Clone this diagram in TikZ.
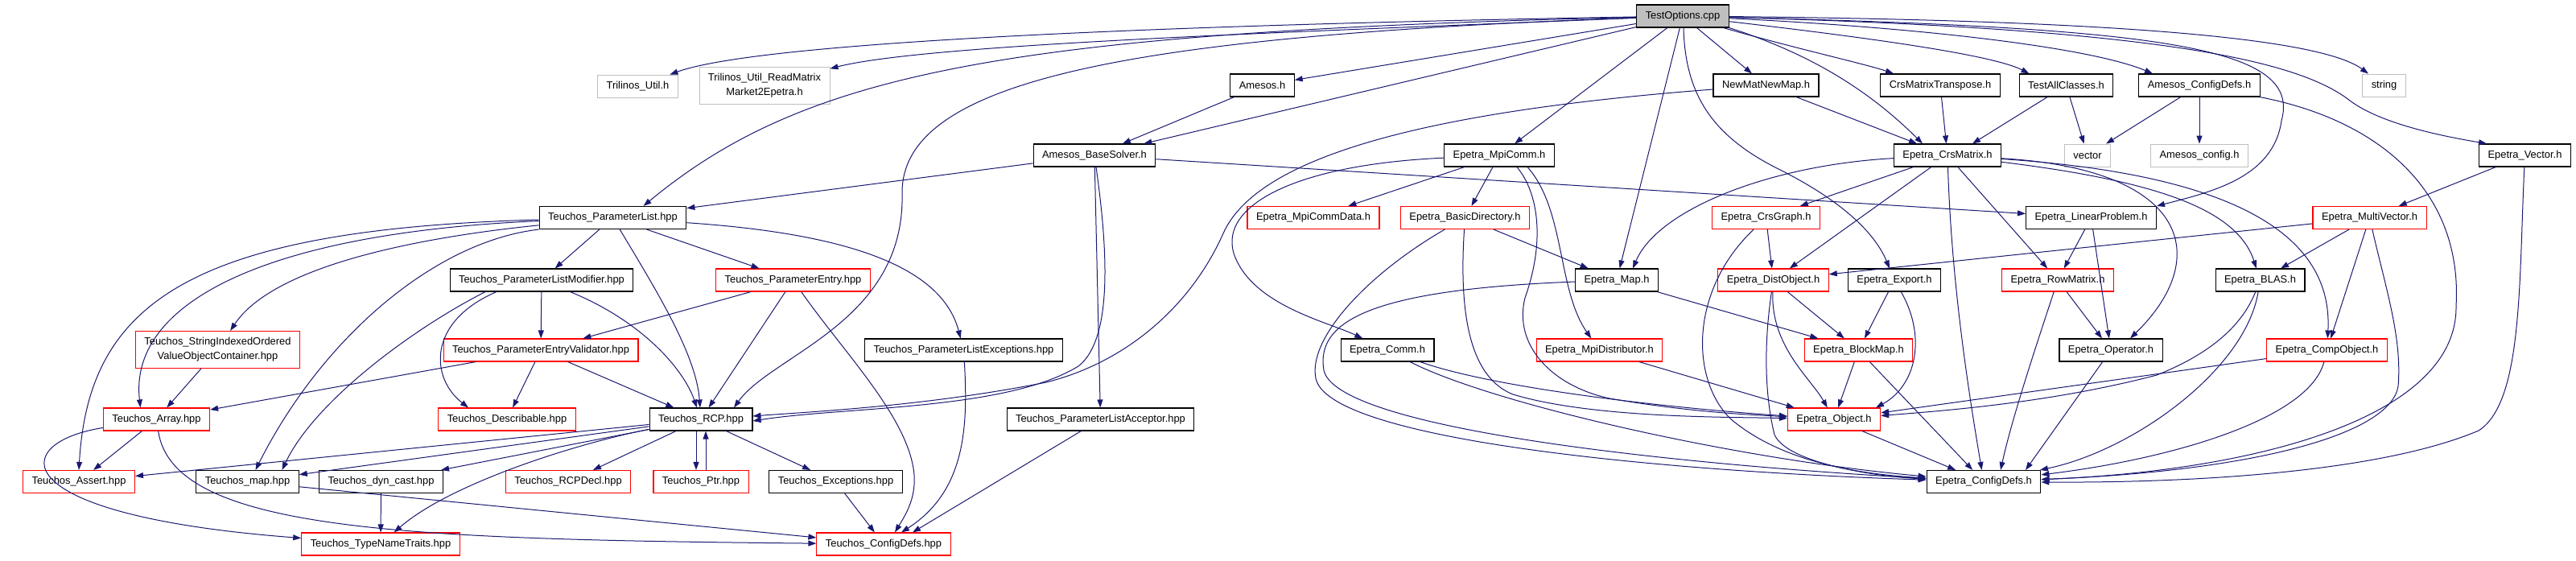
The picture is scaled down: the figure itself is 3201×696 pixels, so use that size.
\documentclass[tikz,border=0pt]{standalone}
\usepackage{fontspec}
\setmainfont{Liberation Sans}
\usetikzlibrary{arrows.meta}
\definecolor{incblue}{HTML}{191970}
\newcommand{\boxfont}{\fontsize{12.9}{18}\selectfont}
\begin{document}
\begin{tikzpicture}[x=1pt,y=-1pt,
  filebox/.style={draw=black,line width=1.1pt,inner xsep=11pt,inner ysep=0pt,minimum height=28pt,font=\boxfont},
  redbox/.style={filebox,draw=red},
  greybox/.style={filebox,draw=black!25,line width=0.9pt},
  rootbox/.style={filebox,fill=black!25},
  twoline/.style={align=center,minimum height=46pt},
  inc/.style={draw=incblue,line width=1pt,-{Triangle[length=10pt,width=7pt]}}]
\useasboundingbox (0,0) rectangle (3201,696);
\node[rootbox] (test) at (2091,20) {TestOptions.cpp};
\node[greybox] (tutil) at (792.5,107) {Trilinos\_Util.h};
\node[greybox,twoline] (treadmm) at (950,106) {Trilinos\_Util\_ReadMatrix\\Market2Epetra.h};
\node[filebox] (amesos) at (1568.5,106) {Amesos.h};
\node[filebox] (newmat) at (2194.5,106) {NewMatNewMap.h};
\node[filebox] (crstrans) at (2411,106) {CrsMatrixTranspose.h};
\node[filebox] (testall) at (2567.5,106) {TestAllClasses.h};
\node[filebox] (amconfdefs) at (2733,106) {Amesos\_ConfigDefs.h};
\node[greybox] (str) at (2962.5,106) {string};
\node[filebox] (basesolver) at (1360,193) {Amesos\_BaseSolver.h};
\node[filebox] (mpicomm) at (1863,193) {Epetra\_MpiComm.h};
\node[filebox] (crsmatrix) at (2420,193) {Epetra\_CrsMatrix.h};
\node[greybox] (vec) at (2594,193) {vector};
\node[greybox] (amconfig) at (2733,193) {Amesos\_config.h};
\node[filebox] (evector) at (3137.5,193) {Epetra\_Vector.h};
\node[filebox] (plist) at (761.5,270.5) {Teuchos\_ParameterList.hpp};
\node[redbox] (mpicommdata) at (1632,270.5) {Epetra\_MpiCommData.h};
\node[redbox] (basicdir) at (1820.5,270.5) {Epetra\_BasicDirectory.h};
\node[redbox] (crsgraph) at (2194.5,270.5) {Epetra\_CrsGraph.h};
\node[filebox] (linprob) at (2598.5,270.5) {Epetra\_LinearProblem.h};
\node[redbox] (multivec) at (2944.5,270.5) {Epetra\_MultiVector.h};
\node[filebox] (plmod) at (673,348) {Teuchos\_ParameterListModifier.hpp};
\node[redbox] (pentry) at (985.5,348) {Teuchos\_ParameterEntry.hpp};
\node[filebox] (emap) at (2009,348) {Epetra\_Map.h};
\node[redbox] (distobj) at (2203.5,348) {Epetra\_DistObject.h};
\node[filebox] (export) at (2354,348) {Epetra\_Export.h};
\node[redbox] (rowmat) at (2557,348) {Epetra\_RowMatrix.h};
\node[filebox] (blas) at (2808.5,348) {Epetra\_BLAS.h};
\node[redbox,twoline] (sioc) at (270.5,434.5) {Teuchos\_StringIndexedOrdered\\ValueObjectContainer.hpp};
\node[redbox] (pevalid) at (672,435) {Teuchos\_ParameterEntryValidator.hpp};
\node[filebox] (plexc) at (1197.5,435) {Teuchos\_ParameterListExceptions.hpp};
\node[filebox] (comm) at (1724,435) {Epetra\_Comm.h};
\node[redbox] (mpidist) at (1987.5,435) {Epetra\_MpiDistributor.h};
\node[redbox] (blockmap) at (2309.5,435) {Epetra\_BlockMap.h};
\node[filebox] (operator) at (2623,435) {Epetra\_Operator.h};
\node[redbox] (compobj) at (2891.5,435) {Epetra\_CompObject.h};
\node[redbox] (tarray) at (194.5,521) {Teuchos\_Array.hpp};
\node[redbox] (descr) at (630,521) {Teuchos\_Describable.hpp};
\node[filebox] (rcp) at (871,521) {Teuchos\_RCP.hpp};
\node[filebox] (placc) at (1367.5,521) {Teuchos\_ParameterListAcceptor.hpp};
\node[redbox] (eobject) at (2279,521) {Epetra\_Object.h};
\node[redbox] (tassert) at (98,598.5) {Teuchos\_Assert.hpp};
\node[filebox] (tmap) at (307.5,598.5) {Teuchos\_map.hpp};
\node[filebox] (dyncast) at (473.5,598.5) {Teuchos\_dyn\_cast.hpp};
\node[redbox] (rcpdecl) at (706,598.5) {Teuchos\_RCPDecl.hpp};
\node[redbox] (tptr) at (871,598.5) {Teuchos\_Ptr.hpp};
\node[filebox] (texc) at (1038.5,598.5) {Teuchos\_Exceptions.hpp};
\node[filebox] (econfdefs) at (2465,598.5) {Epetra\_ConfigDefs.h};
\node[redbox] (tnametraits) at (473,676) {Teuchos\_TypeNameTraits.hpp};
\node[redbox] (tconfdefs) at (1098,676) {Teuchos\_ConfigDefs.hpp};
\foreach \a/\b in {test/amesos,test/basesolver,test/mpicomm,test/newmat,test/emap,
    amesos/basesolver,crstrans/crsmatrix,testall/vec,amconfdefs/vec,amconfdefs/amconfig,
    evector/multivec,basesolver/plist,basesolver/placc,basesolver/linprob,
    mpicomm/mpicommdata,mpicomm/basicdir,plist/plmod,plist/pentry,plmod/pevalid,
    pentry/pevalid,pentry/rcp,pevalid/tarray,pevalid/descr,pevalid/rcp,sioc/tarray,
    tarray/tassert,rcp/tassert,rcp/tmap,rcp/dyncast,rcp/rcpdecl,rcp/texc,
    dyncast/tnametraits,tmap/tconfdefs,texc/tconfdefs,crsmatrix/crsgraph,
    crsmatrix/distobj,crsmatrix/rowmat,crsgraph/distobj,linprob/rowmat,linprob/operator,
    multivec/distobj,multivec/blas,multivec/compobj,distobj/blockmap,export/blockmap,
    rowmat/operator,blockmap/eobject,blockmap/econfdefs,compobj/eobject,
    eobject/econfdefs,emap/blockmap,basicdir/emap,mpidist/eobject}
  \draw[inc] (\a) -- (\b);
\draw[inc] (newmat) -- ([xshift=-38pt]crsmatrix.north);
\draw[inc] (testall) -- ([xshift=31pt]crsmatrix.north);
\draw[inc] (placc) -- ([xshift=36pt]tconfdefs.north);
\draw[inc] (operator) -- ([xshift=52pt]econfdefs.north);
\draw[inc] ([xshift=-6pt]rcp.south) -- ([xshift=-6pt]tptr.north);
\draw[inc] ([xshift=6pt]tptr.north) -- ([xshift=6pt]rcp.south);
\draw[inc] (test) .. controls (1500,30) and (950,50) .. (tutil);
\draw[inc] (test) .. controls (1600,40) and (1150,55) .. (treadmm);
\draw[inc] (test) .. controls (1250,40) and (1000,90) .. ([xshift=38pt]plist.north);
\draw[inc] (test) .. controls (1400,45) and (1120,100) .. (1121,240) .. controls (1125,400) and (960,440) .. ([xshift=41pt]rcp.north);
\draw[inc] (test.south east) .. controls (2260,70) and (2330,120) .. ([xshift=-31pt]crsmatrix.north);
\draw[inc] (test) .. controls (2230,60) and (2320,80) .. ([xshift=-58pt]crstrans.north);
\draw[inc] (test) .. controls (2350,50) and (2480,70) .. ([xshift=-46pt]testall.north);
\draw[inc] (test) .. controls (2400,35) and (2600,60) .. ([xshift=-58pt]amconfdefs.north);
\draw[inc] (test) .. controls (2600,25) and (2880,45) .. (str);
\draw[inc] (test) .. controls (2650,35) and (2850,70) .. (2920,125) .. controls (2960,155) and (3040,170) .. ([xshift=10pt]evector.north west);
\draw[inc] (test) .. controls (2700,35) and (2860,60) .. (2835,150) .. controls (2825,220) and (2750,238) .. (linprob.north east);
\draw[inc] ([xshift=1pt]test.south) .. controls (2094,120) and (2130,170) .. (2210,210) .. controls (2290,250) and (2330,290) .. (export);
\draw[inc] (newmat) .. controls (1750,140) and (1560,200) .. (1520,290) .. controls (1480,380) and (1400,450) .. (1300,475) .. controls (1150,505) and (1000,512) .. ([yshift=4pt]rcp.east);
\draw[inc] (basesolver) .. controls (1375,300) and (1385,420) .. (1340,455) .. controls (1250,510) and (1050,505) .. ([yshift=-2pt]rcp.east);
\draw[inc] (amconfdefs) .. controls (2960,150) and (3060,240) .. (3052,380) .. controls (3054,520) and (2800,585) .. (econfdefs);
\draw[inc] (evector) .. controls (3130,350) and (3135,500) .. (3080,535) .. controls (2950,590) and (2700,600) .. (econfdefs);
\draw[inc] (plist) .. controls (520,295) and (340,330) .. (sioc);
\draw[inc] (plist) .. controls (320,290) and (160,380) .. ([xshift=-20pt]tarray.north);
\draw[inc] (plist) .. controls (230,285) and (110,380) .. (tassert.north);
\draw[inc] (plist.south west) .. controls (540,300) and (400,420) .. ([xshift=10pt]tmap.north);
\draw[inc] (plist) .. controls (815,360) and (865,440) .. (rcp);
\draw[inc] (plist) .. controls (1050,290) and (1170,330) .. (plexc);
\draw[inc] (plmod) .. controls (800,400) and (850,460) .. (rcp);
\draw[inc] ([xshift=-70pt]plmod.south) .. controls (510,410) and (390,500) .. ([xshift=43pt]tmap.north);
\draw[inc] ([xshift=-56pt]plmod.south) .. controls (530,400) and (535,470) .. ([xshift=-48pt]descr.north);
\draw[inc] (pentry) .. controls (1050,440) and (1130,520) .. (1136,590) .. controls (1138,620) and (1125,640) .. ([xshift=14pt]tconfdefs.north);
\draw[inc] (plexc) .. controls (1203,530) and (1200,610) .. ([xshift=22pt]tconfdefs.north);
\draw[inc] (tarray) .. controls (10,550) and (0,640) .. (tnametraits);
\draw[inc] (tarray) .. controls (215,660) and (500,670) .. (tconfdefs);
\draw[inc] (rcp) .. controls (720,550) and (560,600) .. (tnametraits);
\draw[inc] (mpicomm) .. controls (1600,205) and (1510,260) .. (1535,320) .. controls (1560,380) and (1650,400) .. (comm);
\draw[inc] ([xshift=35pt]mpicomm.south) .. controls (1945,260) and (1935,360) .. (mpidist);
\draw[inc] ([xshift=22pt]mpicomm.south) .. controls (1912,240) and (1920,300) .. (1895,370) .. controls (1880,430) and (1930,480) .. (2000,495) .. controls (2100,512) and (2170,515) .. (eobject);
\draw[inc] (basicdir) .. controls (1812,400) and (1830,470) .. (1880,490) .. controls (1980,520) and (2150,518) .. (eobject);
\draw[inc] (basicdir) .. controls (1700,340) and (1625,420) .. (1635,470) .. controls (1650,545) and (2050,585) .. (econfdefs);
\draw[inc] (emap) .. controls (1700,360) and (1635,400) .. (1645,460) .. controls (1660,530) and (2050,575) .. (econfdefs);
\draw[inc] (comm) .. controls (1850,480) and (2050,505) .. (eobject);
\draw[inc] (comm) .. controls (1850,500) and (2150,570) .. (econfdefs);
\draw[inc] (crsmatrix) .. controls (2200,205) and (2060,260) .. ([xshift=20pt]emap.north);
\draw[inc] (crsmatrix) .. controls (2425,350) and (2445,480) .. (econfdefs);
\draw[inc] (crsmatrix) .. controls (2720,210) and (2750,320) .. ([xshift=24pt]operator.north);
\draw[inc] (crsmatrix) .. controls (2680,225) and (2780,260) .. (blas);
\draw[inc] (crsmatrix) .. controls (2750,215) and (2900,280) .. (compobj);
\draw[inc] (crsgraph) .. controls (2100,360) and (2100,470) .. (2150,520) .. controls (2220,580) and (2330,590) .. (econfdefs);
\draw[inc] (distobj) .. controls (2200,430) and (2250,470) .. (eobject);
\draw[inc] (distobj) .. controls (2190,440) and (2195,500) .. (2205,540) .. controls (2220,575) and (2330,592) .. (econfdefs);
\draw[inc] (export) .. controls (2395,420) and (2380,480) .. ([xshift=52pt]eobject.north);
\draw[inc] (rowmat) .. controls (2530,430) and (2500,520) .. ([xshift=21pt]econfdefs.north);
\draw[inc] (blas) .. controls (2780,420) and (2720,450) .. (2680,466) .. controls (2550,500) and (2420,510) .. (eobject);
\draw[inc] (blas) .. controls (2790,460) and (2650,560) .. (econfdefs);
\draw[inc] (compobj) .. controls (2870,520) and (2700,570) .. (econfdefs);
\draw[inc] (multivec) .. controls (2965,360) and (2985,420) .. (2980,480) .. controls (2970,540) and (2800,585) .. (econfdefs);
\end{tikzpicture}
\end{document}
